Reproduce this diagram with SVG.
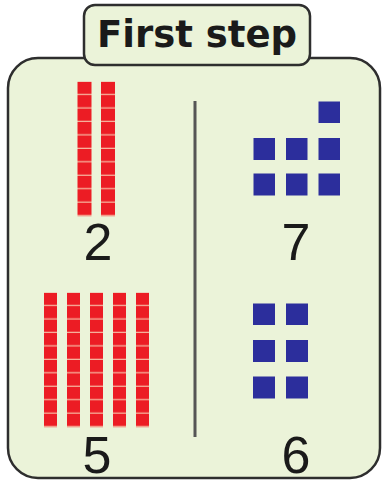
<svg xmlns="http://www.w3.org/2000/svg" width="383" height="486" viewBox="0 0 383 486">
<defs>
<style>
.panel{fill:#EBF3D9;stroke:#2e2e2e;stroke-width:2.5}
.num{font-family:"Liberation Sans",Arial,sans-serif;font-size:52px;fill:#1a1a1a;text-anchor:middle}
.title{font-family:"DejaVu Sans",Verdana,sans-serif;font-weight:bold;font-size:37px;fill:#1a1a1a;text-anchor:middle}
.blue{fill:#2C2E9C}
</style>
<pattern id="rod" x="0" y="81.7" width="14" height="13.45" patternUnits="userSpaceOnUse">
<rect x="0" y="0" width="14" height="13.45" fill="#F6B7A0"/>
<rect x="0" y="0" width="14" height="12.2" fill="#EC1C24"/>
</pattern>
<pattern id="rod2" x="0" y="0" width="13" height="13.45" patternUnits="userSpaceOnUse">
<rect x="0" y="0" width="13" height="13.45" fill="#F6B7A0"/>
<rect x="0" y="0" width="13" height="12.2" fill="#EC1C24"/>
</pattern>
</defs>
<rect width="383" height="486" fill="#ffffff"/>
<g id="panel">
<rect class="panel" x="8" y="58" width="372" height="420" rx="30" ry="30"/>
</g>
<g id="title">
<rect class="panel" x="84" y="5" width="226" height="60" rx="11" ry="11"/>
<text class="title" x="197" y="47">First step</text>
</g>
<g id="connectors">
<line x1="195" y1="101" x2="195" y2="437" stroke="#555" stroke-width="3"/>
</g>
<g id="tens-2">
<rect x="77.5" y="81.7" width="14" height="134.5" fill="url(#rod)"/>
<rect x="101" y="81.7" width="14" height="134.5" fill="url(#rod)"/>
<text class="num" x="98" y="260">2</text>
</g>
<g id="tens-5">
<g transform="translate(0,292.7)">
<rect x="44" y="0" width="13" height="134.5" fill="url(#rod2)"/>
<rect x="67" y="0" width="13" height="134.5" fill="url(#rod2)"/>
<rect x="90" y="0" width="13" height="134.5" fill="url(#rod2)"/>
<rect x="113" y="0" width="13" height="134.5" fill="url(#rod2)"/>
<rect x="136" y="0" width="13" height="134.5" fill="url(#rod2)"/>
</g>
<text class="num" x="97" y="473">5</text>
</g>
<g id="ones-7">
<rect class="blue" x="318.5" y="101.5" width="21.5" height="21.5"/>
<rect class="blue" x="253.5" y="138" width="21.5" height="22"/>
<rect class="blue" x="286" y="138" width="21.5" height="22"/>
<rect class="blue" x="318.5" y="138" width="21.5" height="22"/>
<rect class="blue" x="253.5" y="173.5" width="21.5" height="22"/>
<rect class="blue" x="286" y="173.5" width="21.5" height="22"/>
<rect class="blue" x="318.5" y="173.5" width="21.5" height="22"/>
<text class="num" x="296" y="260">7</text>
</g>
<g id="ones-6">
<rect class="blue" x="253" y="303.5" width="22" height="21.5"/>
<rect class="blue" x="286" y="303.5" width="22" height="21.5"/>
<rect class="blue" x="253" y="340" width="22" height="22"/>
<rect class="blue" x="286" y="340" width="22" height="22"/>
<rect class="blue" x="253" y="376.5" width="22" height="22"/>
<rect class="blue" x="286" y="376.5" width="22" height="22"/>
<text class="num" x="296" y="473">6</text>
</g>
</svg>
